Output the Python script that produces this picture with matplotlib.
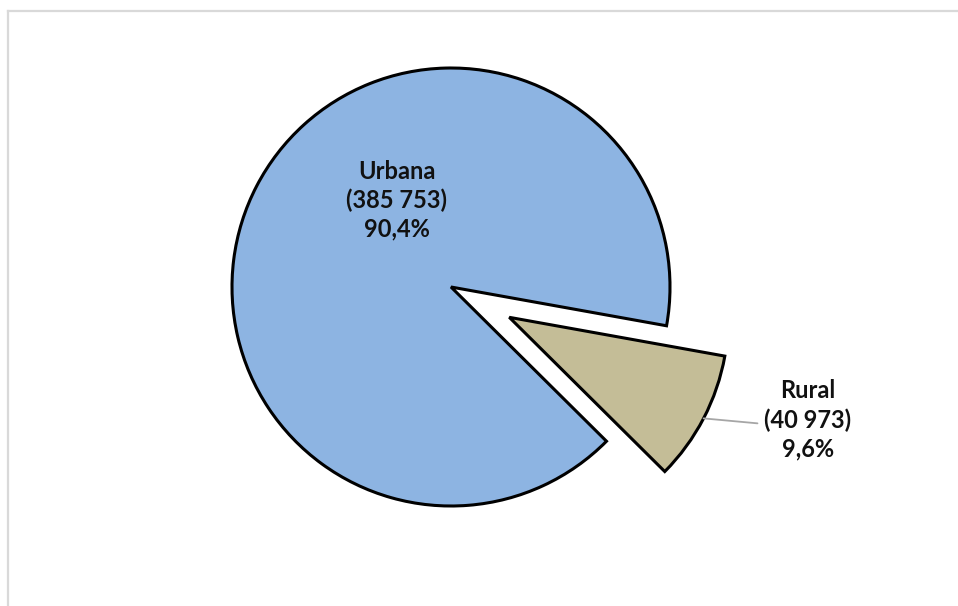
import matplotlib.pyplot as plt
import numpy as np
from matplotlib.lines import Line2D

# data
categories = ["Urbana", "Rural"]
values = [385753, 40973]
colors = ["#8DB4E2", "#C4BD97"]
explode = [0, 0.30]


def fmt_int(n):
    return "{:,}".format(n).replace(",", " ")


def fmt_pct(p):
    return "{:.1f}%".format(p).replace(".", ",")


if __name__ == "__main__":
    plt.rcParams['font.family'] = ['Lato', 'DejaVu Sans']

    fig = plt.figure(figsize=(9.58, 6.06), dpi=100)
    ax = fig.add_axes([0, 0, 1, 1])

    total = sum(values)
    pcts = [v / total * 100 for v in values]

    wedges, _ = ax.pie(values, explode=explode, colors=colors, startangle=-10.2,
                       radius=1, center=(0, 0),
                       wedgeprops=dict(edgecolor="black", linewidth=2.2))

    # keep 1 data unit = 219 px, pie centre at pixel (451, 287)
    ax.set_xlim(-451 / 219, (958 - 451) / 219)
    ax.set_ylim(-(606 - 287) / 219, 287 / 219)
    ax.set_aspect("equal")
    ax.set_axis_off()

    labels = ["{}\n({})\n{}".format(c, fmt_int(v), fmt_pct(p))
              for c, v, p in zip(categories, values, pcts)]

    # Urbana label inside the slice
    ax.text(-0.247, 0.397, labels[0], ha="center", va="center",
            fontsize=17, fontweight="bold", linespacing=1.3, color="#111111")

    # Rural label outside with leader line
    w = wedges[1]
    mid = np.deg2rad((w.theta1 + w.theta2) / 2)
    cx, cy = w.center
    edge = (cx + w.r * np.cos(mid), cy + w.r * np.sin(mid))
    ax.annotate(labels[1], xy=edge, xytext=(1.630, -0.607),
                ha="center", va="center", fontsize=17, fontweight="bold",
                linespacing=1.3, color="#111111",
                arrowprops=dict(arrowstyle="-", color="#A6A6A6", lw=1.3,
                                relpos=(0, 0.45), shrinkA=3, shrinkB=0))

    # chart frame (only top and left visible in the crop)
    fig.add_artist(Line2D([8 / 958, 1], [1 - 11 / 606, 1 - 11 / 606],
                          transform=fig.transFigure, color="#D9D9D9", lw=1.6))
    fig.add_artist(Line2D([8 / 958, 8 / 958], [0, 1 - 11 / 606],
                          transform=fig.transFigure, color="#D9D9D9", lw=1.6))

    fig.savefig("out.png", dpi=100)
